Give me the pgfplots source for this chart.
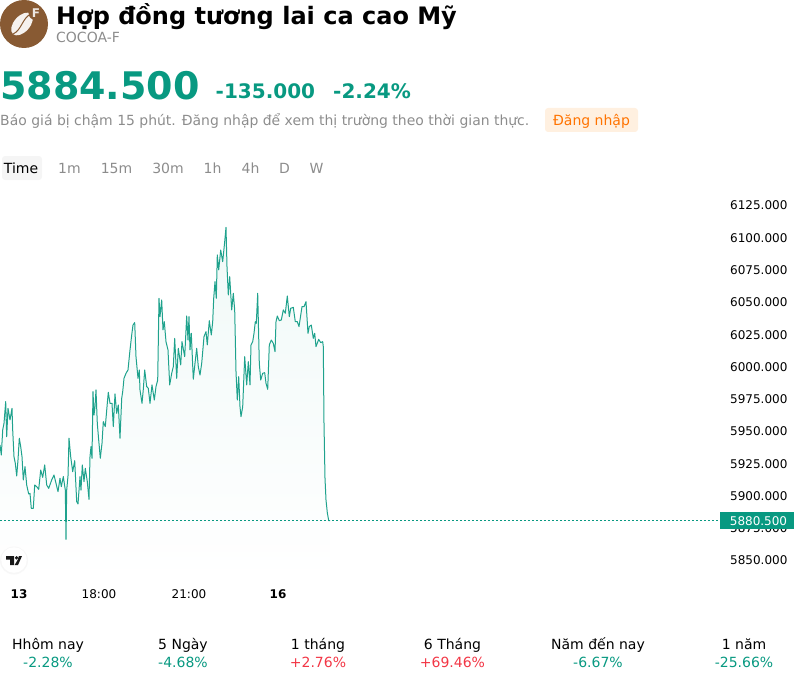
\documentclass[border=0pt]{standalone}
\usepackage{fontspec}
\setmainfont{DejaVu Sans}
\usepackage{pgfplots}
\usepackage{pgfplotstable}
\pgfplotsset{compat=1.18}
\definecolor{up}{HTML}{089981}
\definecolor{down}{HTML}{F23645}
\definecolor{gr}{HTML}{8C8C8C}
\definecolor{brownlogo}{HTML}{885A33}
\pgfplotstableread{
x y
0 5939.1
1.3 5931.3
2.7 5950.7
4 5955.9
5.7 5972.7
6.7 5945.5
8 5967.5
10 5958.5
12 5967.5
12.7 5950.7
14 5930
15.3 5924.9
16.7 5915.1
18 5927.5
19.3 5944.3
20.7 5937.8
22 5930
23.3 5912
25 5922.3
26.7 5908.1
28.7 5901.1
30 5901.6
31.3 5890
33.3 5890
34.7 5908.1
36.7 5906.8
38.7 5904.7
40.7 5919.7
42.7 5914
44.7 5923.6
46.7 5908.1
48.7 5905.5
51.7 5912
54 5915.8
56 5909.4
58 5902.9
60 5913.3
61.3 5906.8
63.3 5914.6
65.3 5904.2
66 5866
66.7 5904.2
68 5915.1
69 5944.3
70.7 5930
72.7 5918.4
74.7 5926.9
76.7 5895.2
78 5893.4
80 5914.6
81 5904.2
82.3 5923.6
84 5910.7
85.3 5921
87.3 5910.7
89 5897
90 5930
91 5937.8
92 5928.8
93 5980.4
94 5962.3
95 5968.8
96 5981.7
97.3 5955.9
98.7 5943
100.3 5928.8
102 5940.4
103.3 5957.2
105.3 5953.3
107.3 5971.4
108.3 5979.9
110 5971.4
112 5971.4
113.3 5953.3
115 5978.6
116.7 5963.6
118.3 5970.1
120 5944.3
121.7 5975.2
122.7 5980.4
124 5990.7
126 5994.6
128 5997.2
130 6012.7
131.7 6024.3
133 6032
134.7 6033.9
136 6007.5
138 5990.7
139.3 5997.2
140 5981.7
142 5971.4
143.3 5982.2
144.7 5997.2
146.7 5984.3
148.3 5983
150 5971.4
152 5985.6
154.3 5973.9
156 5984.3
157.7 5989.4
159 6052.7
160 6038.5
161.7 6051.4
163 6028.2
164.3 6034.6
166 6019.1
168 6012.7
169.7 5985.6
171.7 5994.6
173.3 5999.8
174.7 6021.7
176.7 5990.7
178.3 6014
180.7 6001.1
182 6019.1
184.7 6007.5
186.7 6039
188 6020.4
189 6038.5
190 6012.7
191.3 6025.6
193.3 5990
195 6002.4
196.7 6014
198.3 5999.8
200 5993.3
201.7 6002.4
204 6023
206 6026.9
207.3 6016.6
209.3 6035.4
211.3 6024.3
212.7 6034.6
213.7 6052.7
215 6065.6
216.3 6052.7
217.3 6086.3
218.7 6074.7
220.7 6090.1
222.7 6081.1
224.7 6096.6
226 6107.7
227 6077.2
228.3 6055.3
229.7 6069.5
231.7 6043.7
233.3 6056.6
234.7 6043.7
236 5995.9
237.3 5973.9
238.7 5992
240 5968.8
241 5961
242.7 5968.8
244.7 6007.5
246.7 5985.6
248.3 6003.6
250 5985.6
251 6016.6
252.7 6019.1
254 6025.6
255.3 6034.6
256.3 6033.3
257.7 6056.6
259.3 6002.4
260.7 5989.4
262.7 5994.6
264.7 5995.1
266 5986.9
267.7 5982.2
269.3 6016.6
271.3 6020.4
273.3 6017.8
275 6011.4
276 6034.6
277.3 6039
279.3 6035.4
281.3 6035.9
283.3 6043.7
285.3 6041.1
287.3 6054.5
289.3 6038.5
290.7 6045
293.3 6045.7
295.3 6034.6
297.3 6034.6
299 6030.8
302 6046.2
304 6046.2
306 6050.1
308 6025.6
309.3 6030.8
311.3 6032
313.3 6021.7
314.7 6025.6
316 6015.3
318.7 6020.9
320.7 6018.4
322.7 6019.1
323.3 6015.3
324 5955.9
325 5913.3
326 5896.5
327.3 5886.7
328.7 5880.5
330 5880.5
}\pricedata
\begin{document}
\begin{tikzpicture}[x=1pt,y=-1pt]
\path[use as bounding box] (0,0) rectangle (800,682);
% logo
\fill[brownlogo] (24,24) circle (24);
\begin{scope}[rotate around={-42:(22,24)}]
\fill[white!92!brownlogo] (22,24) ellipse (8 and 13.5);
\draw[brownlogo,line width=1pt] (22,10.5) .. controls (18,19) and (26,29) .. (22,37.5);
\end{scope}
\fill[brownlogo] (35.5,13) circle (7);
\node[text=white!85!brownlogo,inner sep=0,font=\bfseries\fontsize{12}{12}\selectfont,anchor=center] at (36,13) {F};
% header
\node[anchor=base west,inner sep=0,font=\bfseries\fontsize{24}{24}\selectfont] at (56,24.5) {Hợp đồng tương lai ca cao Mỹ};
\node[anchor=base west,inner sep=0,text=gr,font=\fontsize{14}{14}\selectfont] at (56,43) {COCOA-F};
\node[anchor=base west,inner sep=0,text=up,font=\bfseries\fontsize{38}{38}\selectfont] at (0,100) {5884.500};
\node[anchor=base west,inner sep=0,text=up,font=\bfseries\fontsize{20}{20}\selectfont] at (215.5,99) {-135.000};
\node[anchor=base west,inner sep=0,text=up,font=\bfseries\fontsize{20}{20}\selectfont] at (333,99) {-2.24\%};
\node[anchor=base west,inner sep=0,text=gr,font=\fontsize{13.95}{14}\selectfont] at (0,125) {Báo giá bị chậm 15 phút. Đăng nhập để xem thị trường theo thời gian thực.};
\fill[orange!12!white,rounded corners=3pt] (545,108) rectangle (638,132);
\node[anchor=base,inner sep=0,text=orange!90!red,font=\fontsize{14}{14}\selectfont] at (591.5,125) {Đăng nhập};
% tabs
\fill[black!4,rounded corners=3pt] (2,156) rectangle (42,180);
\foreach \px/\lab/\col in {21/Time/black,69.5/1m/gr,116.5/15m/gr,168/30m/gr,212.5/1h/gr,250.5/4h/gr,284.5/D/gr,316.5/W/gr}
  \node[anchor=base,inner sep=0,text=\col,font=\fontsize{14}{14}\selectfont] at (\px,173) {\lab};
% axis
\begin{axis}[
  at={(0pt,-190pt)},anchor=north west,
  x=1pt,y=1.2909pt,
  xmin=0,xmax=725,ymin=5834.5,ymax=6136.6,
  axis line style={draw=none},
  major tick length=0pt,
  axis y line*=right,
  axis x line*=bottom,
  ytick={5850,5875,5900,5925,5950,5975,6000,6025,6050,6075,6100,6125},
  xtick={19,99,189,278},
  xticklabels={\textbf{13},18:00,21:00,\textbf{16}},
  /pgf/number format/fixed,
  /pgf/number format/fixed zerofill,
  /pgf/number format/precision=3,
  /pgf/number format/set thousands separator={},
  /pgf/number format/assume math mode=true,
  every y tick label/.append style={font=\fontsize{12}{12}\selectfont,anchor=west,xshift=2pt,yshift=-0.6pt,inner xsep=3pt},
  every x tick label/.append style={font=\fontsize{12}{12}\selectfont,yshift=-6pt},
]
\addplot[draw=none,top color=up!6!white,bottom color=white] table[x=x,y=y]{\pricedata} \closedcycle;
\addplot[up,line width=1pt,line join=round,mark=none,opacity=.9] table[x=x,y=y]{\pricedata};
\addplot[up,line width=1pt,dash pattern=on 2pt off 2pt,mark=none] coordinates {(0,5880.5) (720,5880.5)};
\end{axis}
% price tag
\fill[up] (720,512) rectangle (794,529);
\node[anchor=center,inner sep=0,text=white,font=\fontsize{12}{12}\selectfont] at (758.5,521) {5880.500};
% tv logo
\fill[black!3] (14,560.5) circle (14);
\fill[white] (14,560) circle (12.8);
\fill[black!90] (6,556) -- (14,556) -- (14,565) -- (10,565) -- (10,559.5) -- (6,559.5) -- cycle;
\fill[black!90] (16.6,557.8) circle (1.8);
\fill[black!90] (22,556) -- (18,565) -- (14.6,565) -- (17.6,560) -- (19,556) -- cycle;
% bottom stats
\foreach \px/\a/\b/\c in {48/Hhôm nay/-2.28\%/up,183/5 Ngày/-4.68\%/up,318/1 tháng/+2.76\%/down,452.5/6 Tháng/+69.46\%/down,598/Năm đến nay/-6.67\%/up,744/1 năm/-25.66\%/up}{
  \node[anchor=base,inner sep=0,font=\fontsize{14}{14}\selectfont] at (\px,649) {\a};
  \node[anchor=base,inner sep=0,text=\c,font=\fontsize{14}{14}\selectfont] at (\px,667) {\b};
}
\end{tikzpicture}
\end{document}
